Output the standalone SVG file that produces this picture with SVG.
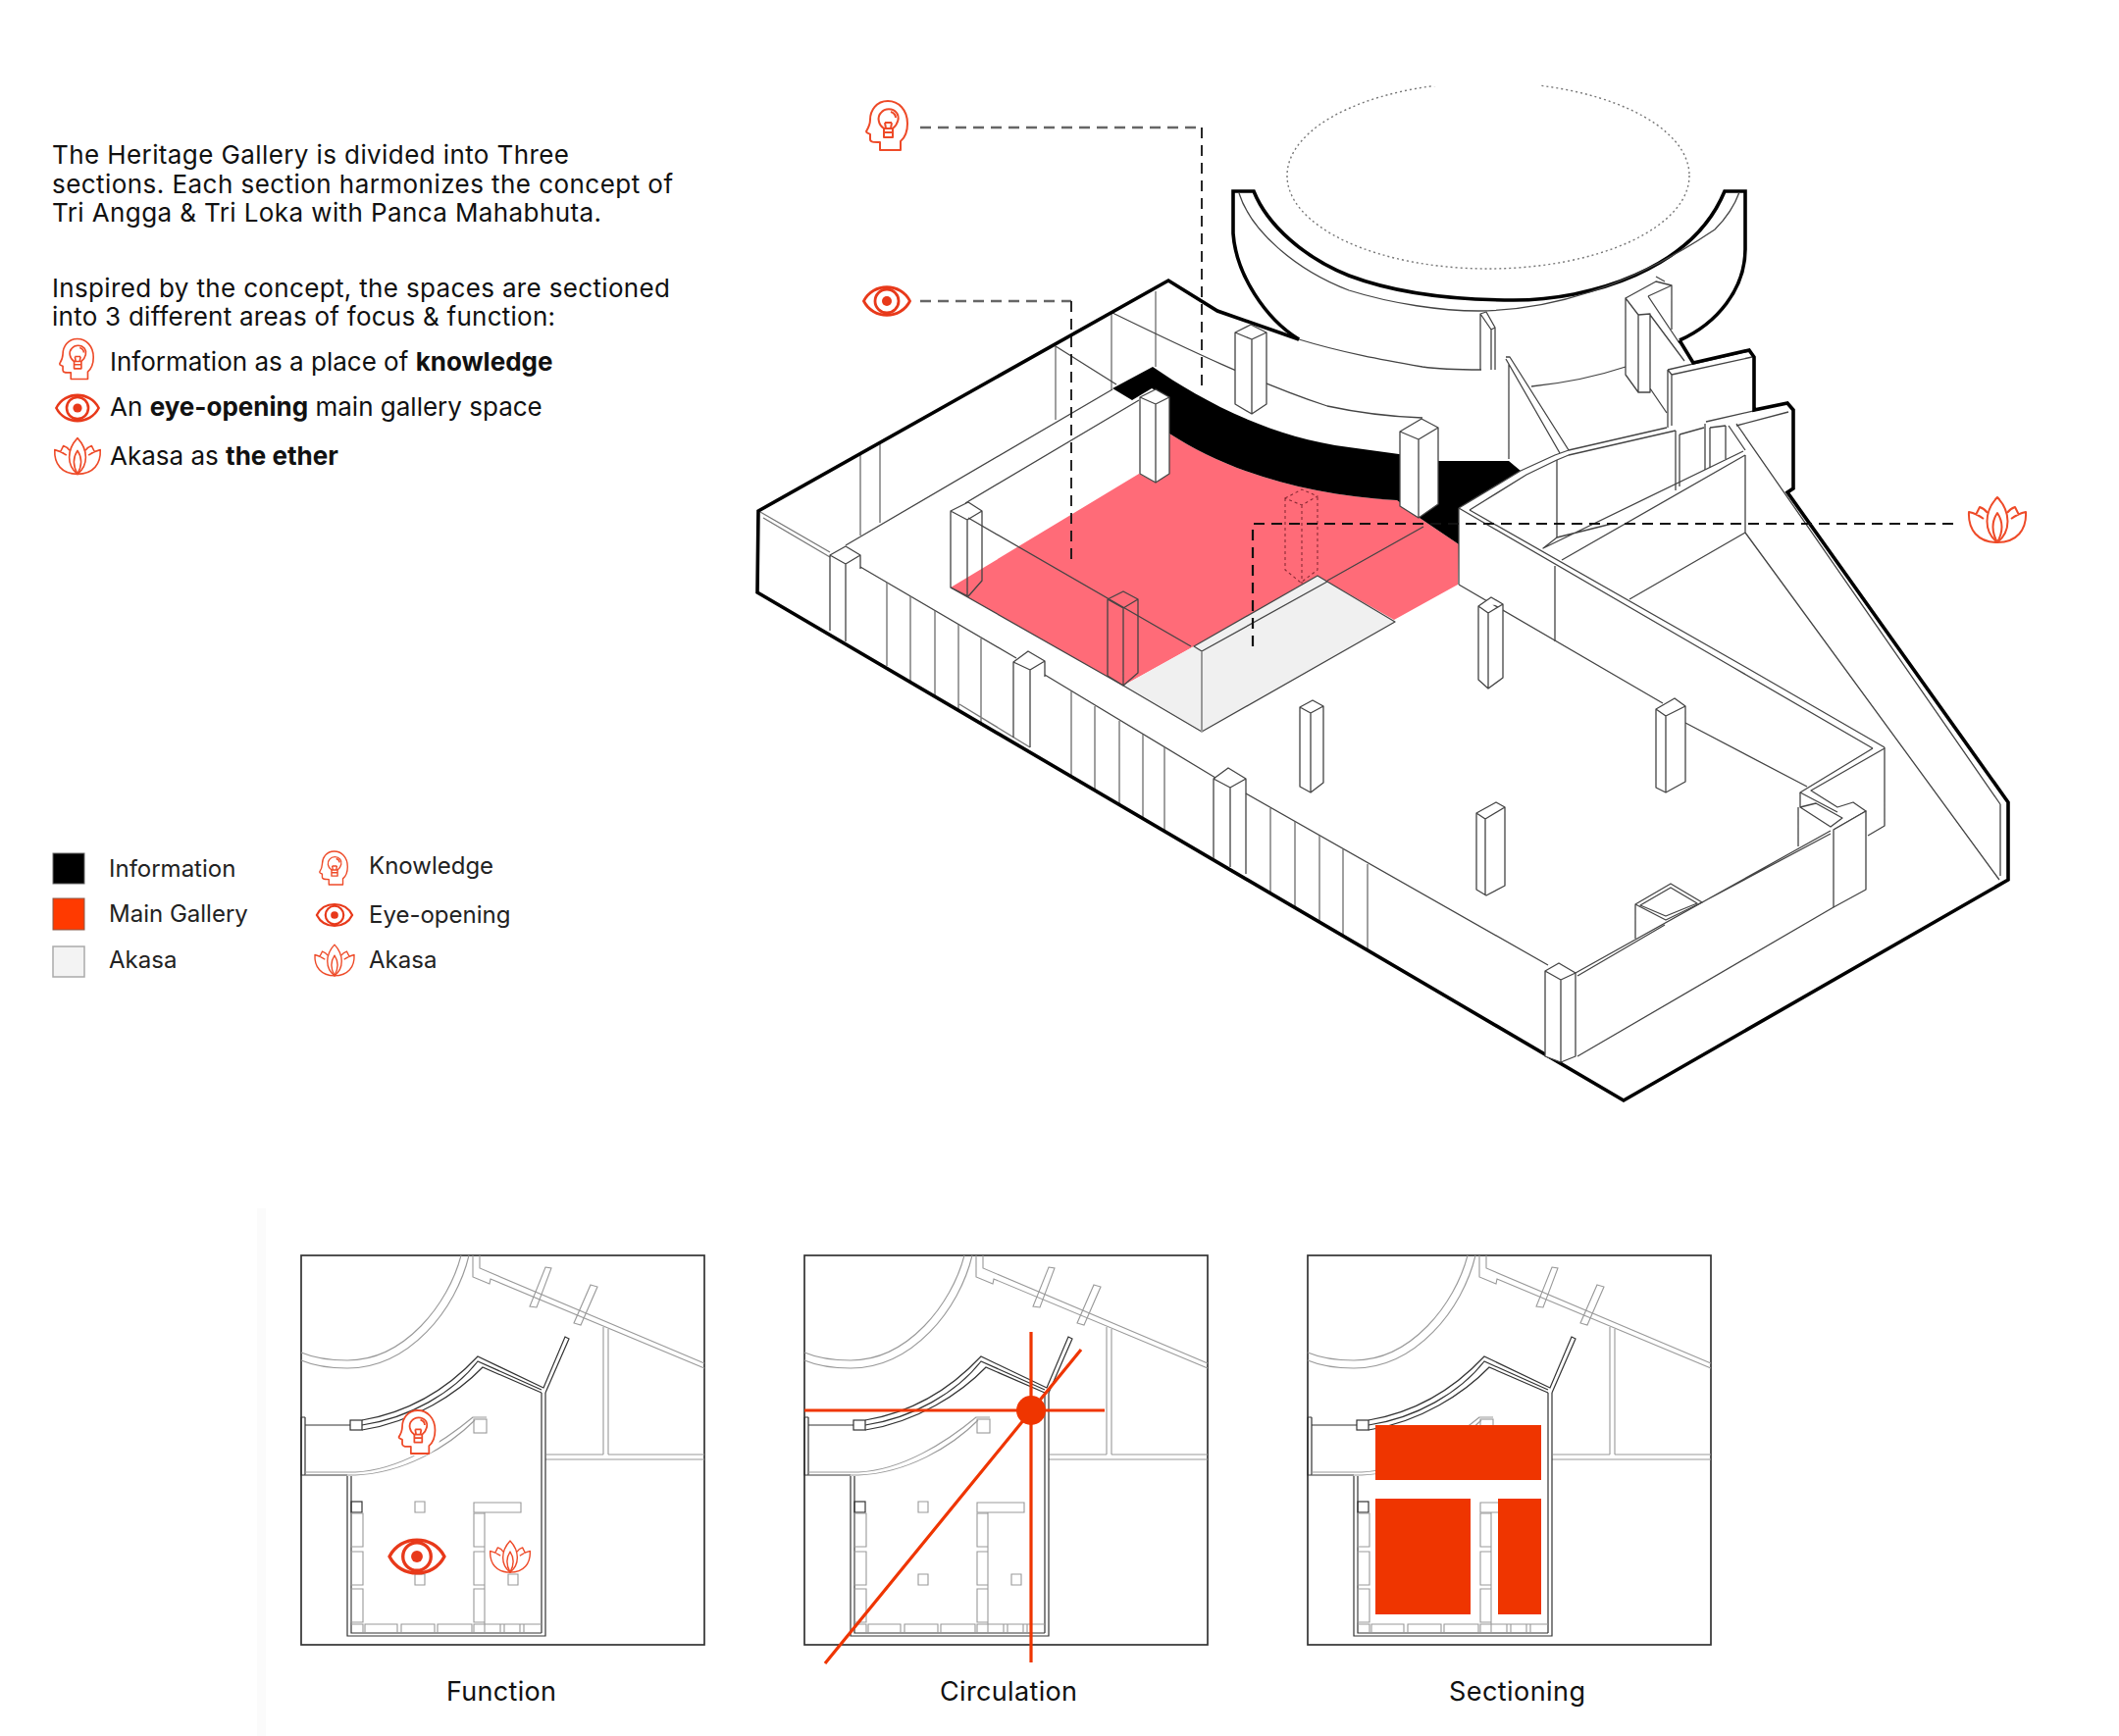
<svg xmlns="http://www.w3.org/2000/svg" xmlns:xlink="http://www.w3.org/1999/xlink" width="2160" height="1770" viewBox="0 0 2160 1770">
<style>
text{font-family:"Inter","Liberation Sans",sans-serif;fill:#111}
.b{font-weight:700}
.t{font-size:26px}
.l{font-size:24px;fill:#222}
.c{font-size:27px}
.k{fill:none;stroke:#000;stroke-width:3.6;stroke-linejoin:miter}
.n{fill:none;stroke:#444;stroke-width:1.3;stroke-linejoin:round}
.w{fill:#fff;stroke:#444;stroke-width:1.3;stroke-linejoin:round}
.g{fill:none;stroke:#777;stroke-width:1.4}
.d{fill:none;stroke:#111;stroke-width:2.2;stroke-dasharray:11 7}
.dg{fill:none;stroke:#666;stroke-width:2.6;stroke-dasharray:11 7}
.ic{fill:#fff;stroke:#ee4a28;stroke-width:2;stroke-linejoin:round}
.pl{fill:none;stroke:#999;stroke-width:1.1}
.pd{fill:none;stroke:#333;stroke-width:1.2}
.fr{fill:none;stroke:#333;stroke-width:1.7}
.r{fill:#ef3500}
.rl{fill:none;stroke:#ef3500;stroke-width:3.2}
</style>
<defs>
<g id="head">
<path class="ic" d="M-7 25L14 25L14 16C20 11 21 5 21 -2C21 -16 12 -25 1 -25C-11 -25 -17 -15 -17 -6C-17 -2 -18 1 -21 6C-21 8 -18 8 -17 9L-17 14C-17 17 -14 17 -7 17Z"/>
<path class="ic" d="M-3 3C-9 -1 -10 -9 -6 -13C-2 -18 6 -18 10 -13C13 -9 12 -2 6 3"/>
<path class="ic" d="M-3 3L-3 12L6 12L6 3ZM-3 7H6M-1 3L-2 -3M4 3L5 -3M-2 -3H5M4 -14C7 -13 9 -11 9 -8"/>
</g>
<g id="eye">
<path d="M-23.5 0C-14 -19 14 -19 23.5 0C14 19 -14 19 -23.5 0Z" fill="#fff" stroke="#e8391a" stroke-width="2.8"/>
<circle r="12" fill="#fff" stroke="#e8391a" stroke-width="2.8"/>
<circle r="5" fill="#e8391a"/>
</g>
<g id="lotus">
<path class="ic" d="M0 23C-20 23 -30 10 -29 -8C-24 -7 -18 -4 -14 -1M0 23C20 23 30 10 29 -8C24 -7 18 -4 14 -1"/>
<path class="ic" d="M-22 -5L-18 -13C-15 -12 -12 -10 -10 -7M22 -5L18 -13C15 -12 12 -10 10 -7"/>
<path class="ic" d="M0 23C-14 12 -14 -8 0 -23C14 -8 14 12 0 23Z"/>
<path class="ic" d="M0 23C-6 12 -6 2 0 -7C6 2 6 12 0 23Z"/>
</g>
<g id="plan">
<path class="pl" d="M163 0C150 50 105 107 47 107C28 107 12 104 0 99M171 0C158 55 110 115 47 115C28 115 12 112 0 107"/>
<path class="pl" d="M182 0V13L411 110M175 0V22L192 29L193 24L411 115"/>
<path class="pl" d="M249 12L255 13L240 53L233 52ZM295 30L302 32L285 71L278 69Z"/>
<path class="pl" d="M308 73V203M313 75V203M250 203H308M313 203H411M249 208H411"/>
<path class="pd" d="M245 140V385M249 140V388H47V225M51 225V385H245"/>
<path class="pd" d="M62 168C110 160 150 135 180 103L247 135L269 83L273 85L249 140M62 173C110 166 155 140 180 108L245 137M62 178C115 170 160 140 185 114L245 140"/>
<rect class="pd" x="50" y="168" width="12" height="10"/>
<path class="pd" d="M4 173H50M0 165V224H47M4 165V224M0 165H4"/>
<path class="pl" d="M4 221H55C100 219 145 190 175 165H189M4 224H55C105 222 150 195 177 168"/>
<rect class="pl" x="176" y="167" width="13" height="14"/>
<path class="pl" d="M116 251h10v11h-10zM116 325h10v11h-10zM211 325h10v11h-10zM176 252h48v10h-48z"/>
<rect class="pd" x="51" y="251" width="11" height="11"/>
<path class="pl" d="M51 263h12v34h-12zM51 302h12v34h-12zM51 340h12v34h-12zM176 263h11v34h-11zM176 302h11v34h-11zM176 340h11v34h-11zM187 262V385"/>
<path class="pl" d="M51 376H63V385M65 385V376H98V385M102 385V376H136V385M139 385V376H174V385M176 385V376H245M203 376V385M207 376V385M223 376V385M227 376V385"/>
</g>
</defs>
<rect width="2160" height="1770" fill="#fff"/>
<rect x="262" y="1232" width="9" height="538" fill="#fbfbfb"/>

<g id="intro-text">
<text class="t" x="53" y="167" textLength="527" lengthAdjust="spacing">The Heritage Gallery is divided into Three</text>
<text class="t" x="53" y="197" textLength="633" lengthAdjust="spacing">sections. Each section harmonizes the concept of</text>
<text class="t" x="53" y="226" textLength="560" lengthAdjust="spacing">Tri Angga &amp; Tri Loka with Panca Mahabhuta.</text>
<text class="t" x="53" y="303" textLength="630" lengthAdjust="spacing">Inspired by the concept, the spaces are sectioned</text>
<text class="t" x="53" y="332" textLength="513" lengthAdjust="spacing">into 3 different areas of focus &amp; function:</text>
</g>
<g id="intro-list">
<use href="#head" transform="translate(78 366) scale(.82)"/>
<use href="#eye" transform="translate(79 416) scale(.92)"/>
<use href="#lotus" transform="translate(79 465) scale(.8)"/>
<text class="t" x="112" y="378">Information as a place of <tspan class="b">knowledge</tspan></text>
<text class="t" x="112" y="424">An <tspan class="b">eye-opening</tspan> main gallery space</text>
<text class="t" x="112" y="474">Akasa as <tspan class="b">the ether</tspan></text>
</g>

<g id="legend">
<rect x="54" y="870" width="32" height="31" fill="#000" stroke="#666"/>
<rect x="54" y="916" width="32" height="32" fill="#ff3a00" stroke="#8a5a4a"/>
<rect x="54" y="965" width="32" height="31" fill="#f3f3f3" stroke="#aaa" stroke-width="1.5"/>
<text class="l" x="111" y="894">Information</text>
<text class="l" x="111" y="940">Main Gallery</text>
<text class="l" x="111" y="987">Akasa</text>
<use href="#head" transform="translate(340 885) scale(.68)"/>
<use href="#eye" transform="translate(341 933) scale(.77)"/>
<use href="#lotus" transform="translate(341 979) scale(.69)"/>
<text class="l" x="376" y="891">Knowledge</text>
<text class="l" x="376" y="941">Eye-opening</text>
<text class="l" x="376" y="987">Akasa</text>
</g>

<g id="building">
<path d="M1192 442C1250 480 1330 505 1424 510L1447 528L1487 555L1486 596L1421 632L1353 593L1343 587L1217 659L1145 699L969 599L1161 483L1178 492L1192 483Z" fill="#ff6b78"/>
<path d="M1134 396L1175 374C1220 405 1290 445 1375 456L1426 463L1467 470L1538 470L1550 480L1487 518L1487 555L1447 528L1424 510C1330 505 1250 480 1192 442L1192 405L1174 396L1154 408Z" fill="#000"/>
<path d="M1145 699L1217 659L1343 587L1353 593L1422 634L1225 746Z" fill="#f0f0f0"/>
<path class="n" d="M1145 699L1225 746L1422 634L1353 593L1225 664L1217 659L1343 587L1353 593"/>
<path d="M1225 664V746" fill="none" stroke="#999" stroke-width="2"/>
<path d="M1353 592L1451 537M1145 699L969 599M987 528L1214 659" class="n"/>

<ellipse id="dome" cx="1517" cy="179" rx="205" ry="95" fill="none" stroke="#777" stroke-width="1.4" stroke-dasharray="2 3"/>
<rect x="1461" y="80" width="108" height="8" fill="#fff"/>

<path class="g" d="M1178 297V374M1133 319V397M1076 353V428M897 453V533M877 464V546"/>
<path class="n" d="M1076 353L1138 392" stroke-width="2"/>
<path class="n" d="M1134 319C1210 356 1286 392 1353 414C1390 422 1420 425 1450 426M1324 346C1370 360 1410 367 1450 374C1470 377 1490 377 1510 377"/>
<path class="n" d="M862 556L1134 397M984 513L1161 408"/>
<path class="g" d="M775 522L846 563M778 528L846 568"/>
<path class="n" d="M877 578L1036 671M1065 688L1239 793M1270 809L1578 984"/>
<path class="g" d="M904 594V679M928 608V695M953 623V710M977 637V724M1000 651V738M1092 705V791M1116 720V806M1141 735V821M1165 749V834M1187 762V847M1295 824V911M1320 838V926M1345 852V940M1369 866V954M1394 881V969M978 718L1050 762"/>
<path class="n" d="M1487 596L1695 717M1718 737L1842 802"/>

<!-- inner walls, right side -->
<path class="w" d="M1487 518L1550 480L1585 464L1599 459L1699 436L1708 439L1708 600L1487 596Z" style="stroke:none"/>
<path class="n" d="M1487 518L1550 480L1585 464L1599 459L1699 436M1498 520L1556 484L1587 469L1599 464L1708 439"/>
<path class="n" d="M1487 518V596M1587 469V548M1585 577V654M1708 439V500M1712 443V496M1712 443L1737 436"/>
<path class="n" d="M1487 518L1766 680L1909 763M1498 520L1779 680L1921 762"/>
<path class="n" d="M1909 763L1835 808L1873 828M1921 763L1846 806L1873 823L1889 818L1902 827L1869 846"/>
<path class="n" d="M1835 823L1851 819L1878 834L1866 843ZM1835 808V823M1833 823V863M1921 762V842L1904 852"/>
<path class="w" d="M1869 846L1902 827V907L1869 925Z"/>
<path class="n" d="M1869 925L1608 1077"/>
<path class="n" d="M1606 992L1866 847M1608 995L1697 943M1735 920L1866 850"/>
<path class="n" d="M1667 922L1703 901L1735 920L1698 938ZM1672 923L1703 905L1730 921L1698 934ZM1667 922V957"/>
<path class="n" d="M1770 432L2039 820M2039 820V893M1779 543L2038 897M1779 543L1661 611M1762 434L1779 459M1779 464V543"/>
<path class="n" d="M1777 460L1573 559L1587 548M1779 464L1592 571M1587 548L1643 534"/>
<path class="n" d="M1739 430L1822 411M1770 434L1823 420M1738 432V479M1743 436V477M1759 434V468M1743 436L1759 434"/>
<path class="n" d="M1700 377L1783 358M1704 382L1786 364M1704 382V434M1700 377V436M1700 377L1704 382"/>
<path class="n" d="M1657 304L1670 321V400L1657 382ZM1670 321L1682 320V400H1670M1657 304L1688 287L1704 291V336M1704 291L1680 302M1688 282L1697 287M1682 396L1699 421M1680 302L1712 350M1682 321L1717 368"/>
<path class="n" d="M1509 320L1515 318L1524 334L1520 336ZM1509 320V377M1520 336V377M1524 334V377"/>
<path class="n" d="M1535 364L1539 364L1599 459M1535 366L1590 462M1538 371V468M1561 394C1600 390 1630 383 1657 374"/>

<!-- thick outline -->
<path class="k" d="M1324 346L1241 317L1191 286L773 521L772 604L1655 1122L2047 897L2047 818L1822 502L1828 498L1828 418L1822 411L1788 418L1788 364L1783 357L1726 370L1712 347"/>
<path class="k" d="M1712 347C1750 330 1779 295 1779 254L1779 195L1758 195C1725 275 1620 306 1543 306C1480 306 1420 298 1375 281C1330 263 1292 230 1278 195L1257 195L1257 238C1260 280 1290 325 1324 346"/>
<path class="n" d="M1263 197C1275 235 1320 275 1375 296C1420 310 1470 317 1507 317C1600 316 1680 280 1748 234C1760 222 1768 210 1773 196"/>

<g id="pillars">
<path class="w" d="M1162 405L1178 397L1192 405V483L1178 492L1162 483ZM1162 405L1178 412L1192 405M1178 412V492"/>
<path class="w" d="M1259 339L1275 331L1291 339V412L1276 422L1259 412ZM1259 339L1276 346L1291 339M1276 346V422"/>
<path class="w" d="M1427 440L1449 427L1466 436V514L1446 528L1427 516ZM1427 440L1446 448L1466 436M1446 448V528"/>
<path class="n" d="M969 521L987 512L1001 521L986 530ZM969 521V599L987 608L1001 592V521M986 530V608"/>
<path class="n" d="M1129 611L1145 603L1160 611L1145 620ZM1129 611V689L1145 699L1160 686V611M1145 620V699"/>
<path class="w" d="M1325 721L1338 714L1349 720V798L1336 808L1325 802ZM1325 721L1336 727L1349 720M1336 727V808"/>
<path class="w" d="M1507 618L1520 609L1532 616V691L1517 702L1507 693ZM1507 618L1517 625L1532 616M1517 625V702"/>
<path class="w" d="M1688 723L1707 712L1718 720V797L1698 808L1688 803ZM1688 723L1698 730L1718 720M1698 730V808"/>
<path class="w" d="M1505 829L1525 818L1534 823V903L1515 913L1505 907ZM1505 829L1514 835L1534 823M1514 835V913"/>
<path class="w" d="M1575 990L1589 982L1606 992V1077L1591 1083L1575 1077ZM1575 990L1591 999L1606 992M1591 999V1083"/>
<path class="n" d="M846 566L862 557L877 566L862 575ZM846 566V643M862 575V654M877 566V580"/>
<path class="n" d="M1033 675L1048 664L1065 674L1050 683ZM1033 675V752M1050 683V762M1065 674V690"/>
<path class="n" d="M1237 794L1252 783L1270 794L1254 803ZM1237 794V875M1254 803V884M1270 794V891"/>
<path d="M1310 508L1327 499L1343 506L1327 515ZM1310 508V581L1326 594L1343 581V506M1327 515V595" fill="none" stroke="#8a2a35" stroke-width="1.1" stroke-dasharray="3 3"/>
</g>
</g>

<g id="connectors">
<path class="dg" d="M938 130H1225"/>
<path class="d" d="M1225 130V399" style="stroke-width:1.8"/>
<path class="dg" d="M938 307H1092"/>
<path class="d" d="M1092 307V572" style="stroke-width:1.8"/>
<path class="d" d="M1991 534H1277V666"/>
</g>

<g id="icon-knowledge"><use href="#head" transform="translate(904 128)"/></g>
<g id="icon-eye"><use href="#eye" transform="translate(904 307)"/></g>
<g id="icon-akasa"><use href="#lotus" transform="translate(2036 530)"/></g>

<g id="panel-function">
<rect class="fr" x="307" y="1280" width="411" height="397"/>
<use href="#plan" transform="translate(307 1280)"/>
<circle cx="427" cy="1463" r="22" fill="#fff"/>
<use href="#head" transform="translate(425 1460) scale(.88)"/>
<use href="#eye" transform="translate(425 1587) scale(1.19)"/>
<use href="#lotus" transform="translate(520 1587) scale(.7)"/>
<text class="c" x="455" y="1734" textLength="112" lengthAdjust="spacing">Function</text>
</g>
<g id="panel-circulation">
<rect class="fr" x="820" y="1280" width="411" height="397"/>
<use href="#plan" transform="translate(820 1280)"/>
<path class="rl" d="M1051 1358V1695M820 1438H1126M841 1696L1102 1376"/>
<circle cx="1051" cy="1438" r="15" fill="#ef3500"/>
<text class="c" x="958" y="1734" textLength="140" lengthAdjust="spacing">Circulation</text>
</g>
<g id="panel-sectioning">
<rect class="fr" x="1333" y="1280" width="411" height="397"/>
<use href="#plan" transform="translate(1333 1280)"/>
<rect class="r" x="1402" y="1453" width="169" height="56"/>
<rect class="r" x="1402" y="1528" width="97" height="118"/>
<rect class="r" x="1527" y="1528" width="44" height="118"/>
<text class="c" x="1477" y="1734" textLength="139" lengthAdjust="spacing">Sectioning</text>
</g>
</svg>
